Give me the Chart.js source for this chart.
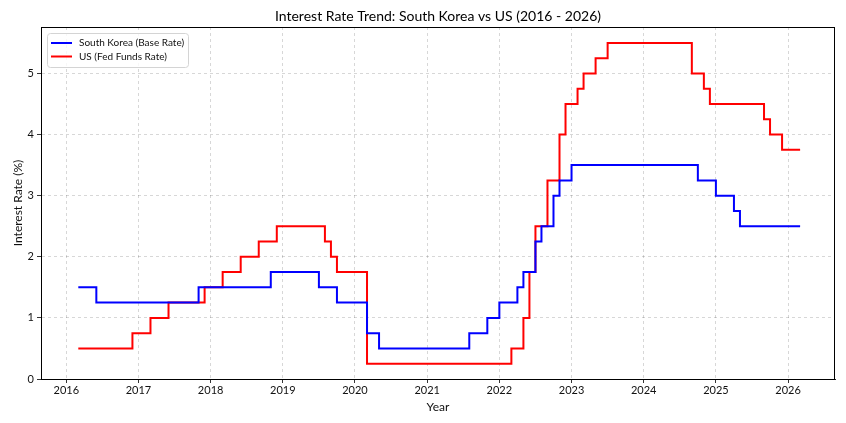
<!DOCTYPE html>
<html>
<head>
<meta charset="utf-8">
<script src="https://cdn.jsdelivr.net/npm/chart.js@4.4.1/dist/chart.umd.min.js"></script>
<style>
    html, body { margin: 0; padding: 0; background: #fff; }
    #rateChart { display: block; }
</style>
</head>
<body>
<canvas id="rateChart" width="846" height="423"></canvas>
<script>
// month the rate changed (YYYY-MM) and the new rate, last entry = end of series
const krMonths = ['2016-03', '2016-06', '2017-11', '2018-11', '2019-07', '2019-10', '2020-03', '2020-05',
    '2021-08', '2021-11', '2022-01', '2022-04', '2022-05', '2022-07', '2022-08', '2022-10', '2022-11',
    '2023-01', '2024-10', '2025-01', '2025-04', '2025-05', '2026-03'];
const krRates = [1.5, 1.25, 1.5, 1.75, 1.5, 1.25, 0.75, 0.5,
    0.75, 1.0, 1.25, 1.5, 1.75, 2.25, 2.5, 3.0, 3.25,
    3.5, 3.25, 3.0, 2.75, 2.5, 2.5];

const usMonths = ['2016-03', '2016-12', '2017-03', '2017-06', '2017-12', '2018-03', '2018-06', '2018-09',
    '2018-12', '2019-08', '2019-09', '2019-10', '2020-03', '2022-03', '2022-05', '2022-06', '2022-07',
    '2022-09', '2022-11', '2022-12', '2023-02', '2023-03', '2023-05', '2023-07', '2024-09', '2024-11',
    '2024-12', '2025-09', '2025-10', '2025-12', '2026-03'];
const usRates = [0.5, 0.75, 1.0, 1.25, 1.5, 1.75, 2.0, 2.25,
    2.5, 2.25, 2.0, 1.75, 0.25, 0.5, 1.0, 1.75, 2.5,
    3.25, 4.0, 4.5, 4.75, 5.0, 5.25, 5.5, 5.0, 4.75,
    4.5, 4.25, 4.0, 3.75, 3.75];

const seriesLabels = ['South Korea (Base Rate)', 'US (Fed Funds Rate)'];
const yTicks = [0, 1, 2, 3, 4, 5];
const xTicks = [2016, 2017, 2018, 2019, 2020, 2021, 2022, 2023, 2024, 2025, 2026];
const chartTitle = 'Interest Rate Trend: South Korea vs US (2016 - 2026)';

const toYear = function (ym) {
    const parts = ym.split('-');
    return parseInt(parts[0], 10) + (parseInt(parts[1], 10) - 1) / 12;
};
const toPoints = function (months, rates) {
    return months.map((m, i) => ({ x: toYear(m), y: rates[i] }));
};

const fontFamily = 'Lato, "Open Sans", sans-serif';
Chart.defaults.font.family = fontFamily;
Chart.defaults.color = '#111';

// matplotlib-style box, title centred over the axes, inset legend
const frameAndLegend = {
    id: 'frameAndLegend',
    afterDraw(chart) {
        const ctx = chart.ctx;
        const a = chart.chartArea;
        ctx.save();
        ctx.strokeStyle = '#000';
        ctx.lineWidth = 1;
        ctx.strokeRect(a.left + 0.5, a.top + 0.5, a.right - a.left - 1, a.bottom - a.top);

        ctx.fillStyle = '#000';
        ctx.font = '14px ' + fontFamily;
        ctx.textAlign = 'center';
        ctx.textBaseline = 'middle';
        ctx.fillText(chartTitle, (a.left + a.right) / 2, 16);

        const x0 = a.left + 6, y0 = a.top + 6;
        const w = 141, h = 34;
        ctx.fillStyle = 'rgba(255,255,255,0.8)';
        ctx.strokeStyle = '#d4d4d4';
        ctx.beginPath();
        ctx.roundRect(x0 + 0.5, y0 + 0.5, w, h, 3);
        ctx.fill();
        ctx.stroke();

        ctx.font = '10px ' + fontFamily;
        ctx.textAlign = 'left';
        chart.data.datasets.forEach(function (ds, i) {
            const ly = y0 + 10 + i * 13.5;
            ctx.strokeStyle = ds.borderColor;
            ctx.lineWidth = 2;
            ctx.beginPath();
            ctx.moveTo(x0 + 4, ly);
            ctx.lineTo(x0 + 25, ly);
            ctx.stroke();
            ctx.fillStyle = '#111';
            ctx.fillText(ds.label, x0 + 32, ly);
        });
        ctx.restore();
    }
};

const gridStyle = {
    color: 'rgba(0, 0, 0, 0.2)',
    lineWidth: 0.8,
    tickColor: '#000',
    tickBorderDash: [],
    tickLength: 4,
    drawTicks: true
};
const borderStyle = { display: true, color: '#000', width: 1, dash: [3, 3] };

new Chart(document.getElementById('rateChart'), {
    type: 'line',
    data: {
        datasets: [
            {
                label: seriesLabels[0],
                data: toPoints(krMonths, krRates),
                borderColor: '#0000ff',
                borderWidth: 2,
                stepped: 'before',
                pointRadius: 0,
                fill: false
            },
            {
                label: seriesLabels[1],
                data: toPoints(usMonths, usRates),
                borderColor: '#ff0000',
                borderWidth: 2,
                stepped: 'before',
                pointRadius: 0,
                fill: false
            }
        ]
    },
    options: {
        responsive: false,
        animation: false,
        layout: {
            padding: { left: 0, right: 11, top: 27, bottom: 0 }
        },
        plugins: {
            legend: { display: false },
            tooltip: { enabled: false },
            title: { display: false }
        },
        scales: {
            x: {
                type: 'linear',
                min: 2015.65,
                max: 2026.65,
                afterBuildTicks: function (scale) {
                    scale.ticks = xTicks.map(v => ({ value: v }));
                },
                afterFit: function (scale) {
                    scale.height = 44;
                },
                grid: gridStyle,
                border: borderStyle,
                ticks: {
                    padding: 1,
                    font: { size: 11 },
                    color: '#111',
                    maxRotation: 0,
                    callback: v => String(v)
                },
                title: {
                    display: true,
                    text: 'Year',
                    color: '#111',
                    font: { size: 12 },
                    padding: { top: 0, bottom: 9 }
                }
            },
            y: {
                type: 'linear',
                min: 0,
                max: 5.76,
                afterBuildTicks: function (scale) {
                    scale.ticks = yTicks.map(v => ({ value: v }));
                },
                afterFit: function (scale) {
                    scale.width = 41;
                },
                grid: gridStyle,
                border: borderStyle,
                ticks: {
                    padding: 3,
                    font: { size: 11 },
                    color: '#111',
                    callback: v => String(v)
                },
                title: {
                    display: true,
                    text: 'Interest Rate (%)',
                    color: '#111',
                    font: { size: 12 },
                    padding: { top: 11, bottom: 0 }
                }
            }
        }
    },
    plugins: [frameAndLegend]
});
</script>
</body>
</html>
